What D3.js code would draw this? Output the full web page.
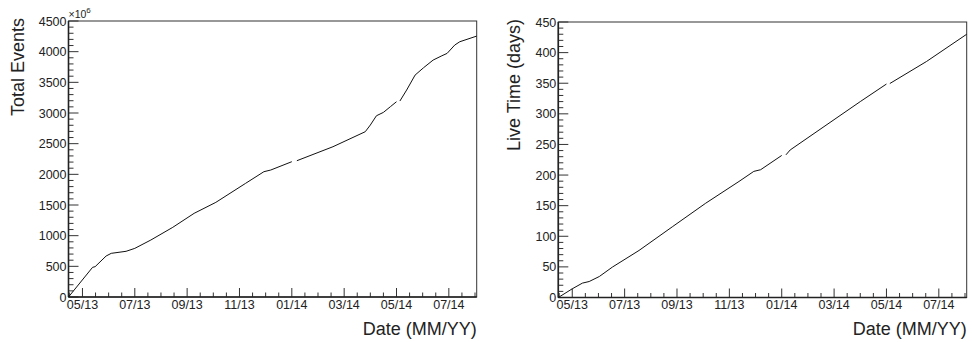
<!DOCTYPE html>
<html>
<head>
<meta charset="utf-8">
<script src="https://cdn.jsdelivr.net/npm/d3@7/dist/d3.min.js"></script>
<style>
  html, body { margin: 0; padding: 0; background: #fff; }
  svg { display: block; }
  text { font-family: "Liberation Sans", Arial, Helvetica, sans-serif; fill: #222; }
</style>
</head>
<body>
<svg id="chart" width="972" height="342"></svg>
<script>
// ---------- DATA ----------
const xTickLabels = ["05/13", "07/13", "09/13", "11/13", "01/14", "03/14", "05/14", "07/14"];
const xDomainDates = ["2013-04-15", "2014-08-03"];

// Total events (x10^6); null marks a gap in the record
const eventDates = ["2013-04-15", "2013-05-13", "2013-05-16", "2013-05-29", "2013-06-04", "2013-06-21",
  "2013-07-01", "2013-07-20", "2013-08-15", "2013-09-09", "2013-10-04", "2013-11-08", "2013-11-29",
  "2013-12-07", "2014-01-01", "2014-01-04", "2014-01-07", "2014-02-17", "2014-03-26", "2014-04-01",
  "2014-04-08", "2014-04-16", "2014-04-24", "2014-05-01", "2014-05-03", "2014-05-05", "2014-05-13",
  "2014-05-23", "2014-06-02", "2014-06-13", "2014-06-23", "2014-06-29", "2014-07-08", "2014-07-14",
  "2014-08-03"];
const eventValues = [0, 484, 494, 668, 712, 745,
  793, 929, 1136, 1364, 1543, 1853, 2043,
  2070, 2206, null, 2222, 2450, 2695, 2804,
  2955, 3010, 3103, 3184, null, 3195, 3374,
  3618, 3738, 3863, 3933, 3972, 4108, 4162,
  4254];
const eventTicks = [0, 500, 1000, 1500, 2000, 2500, 3000, 3500, 4000, 4500];

// Live time (days)
const liveDates = ["2013-04-15", "2013-05-01", "2013-05-13", "2013-05-21", "2013-06-02", "2013-06-17",
  "2013-07-18", "2013-08-27", "2013-10-04", "2013-11-12", "2013-11-29", "2013-12-07", "2014-01-01",
  "2014-01-03", "2014-01-06", "2014-01-11", "2014-04-01", "2014-05-01", "2014-05-03", "2014-05-05",
  "2014-06-17", "2014-08-03"];
const liveValues = [0, 14.2, 23.5, 26.1, 34.3, 49.7,
  76.8, 116, 154, 189.5, 206, 208.7, 232,
  null, 233, 241, 320, 348.7, null, 349.5,
  385.6, 430];
const liveTicks = [0, 50, 100, 150, 200, 250, 300, 350, 400, 450];

// ---------- HELPERS ----------
// fractional month index, 0 = 1 May 2013
function monthIndex(s) {
  const [y, m, d] = s.split("-").map(Number);
  const dim = new Date(Date.UTC(y, m, 0)).getUTCDate();
  return (y - 2013) * 12 + (m - 5) + (d - 1) / dim;
}

const svg = d3.select("#chart");

function drawPanel(cfg) {
  const { left, right, top, bottom, dates, values, yMax, yTicks, yMinorStep, yTitle, yTitleX, showExp } = cfg;
  const x = d3.scaleLinear()
    .domain(xDomainDates.map(monthIndex))
    .range([left, right]);
  const y = d3.scaleLinear().domain([0, yMax]).range([bottom, top]);
  const g = svg.append("g");

  // frame
  g.append("rect")
    .attr("x", left).attr("y", top)
    .attr("width", right - left).attr("height", bottom - top)
    .attr("fill", "none").attr("stroke", "#333").attr("stroke-width", 1);

  // x ticks (inside, upward)
  const [d0, d1] = x.domain();
  const xMinor = d3.range(Math.ceil(d0 * 2) / 2, d1 + 1e-9, 0.5);
  g.selectAll(".xt").data(xMinor).join("line")
    .attr("x1", d => x(d)).attr("x2", d => x(d))
    .attr("y1", bottom)
    .attr("y2", d => Math.abs(d / 2 - Math.round(d / 2)) < 1e-9 ? bottom - 9 : bottom - 4.5)
    .attr("stroke", "#333").attr("stroke-width", 1);
  g.selectAll(".xl").data(xTickLabels).join("text")
    .attr("x", (d, i) => x(i * 2)).attr("y", 309)
    .attr("text-anchor", "middle").attr("font-size", 12.5)
    .text(d => d);

  // y ticks (inside, rightward)
  const yMinor = d3.range(0, yMax + 1e-9, yMinorStep);
  g.selectAll(".yt").data(yMinor).join("line")
    .attr("x1", left)
    .attr("x2", d => yTicks.includes(d) ? left + 10 : left + 5)
    .attr("y1", d => y(d)).attr("y2", d => y(d))
    .attr("stroke", "#333").attr("stroke-width", 1);
  g.selectAll(".yl").data(yTicks).join("text")
    .attr("x", left - 2).attr("y", d => y(d))
    .attr("dy", "0.36em")
    .attr("text-anchor", "end").attr("font-size", 12.5)
    .text(d => d);

  // axis lines (thicker)
  g.append("line").attr("x1", left).attr("x2", left).attr("y1", top).attr("y2", bottom)
    .attr("stroke", "#222").attr("stroke-width", 1.6);
  g.append("line").attr("x1", left).attr("x2", right).attr("y1", bottom).attr("y2", bottom)
    .attr("stroke", "#222").attr("stroke-width", 1.6);

  // curve
  const pts = dates.map((d, i) => [monthIndex(d), values[i]]);
  const line = d3.line()
    .defined(d => d[1] !== null)
    .x(d => x(d[0])).y(d => y(d[1]));
  g.append("path").datum(pts)
    .attr("d", line)
    .attr("fill", "none").attr("stroke", "#111").attr("stroke-width", 1)
    .attr("stroke-linejoin", "round");

  // titles
  g.append("text")
    .attr("transform", `translate(${yTitleX},${top - 3}) rotate(-90)`)
    .attr("text-anchor", "end").attr("font-size", 18)
    .text(yTitle);
  g.append("text")
    .attr("x", right).attr("y", 335)
    .attr("text-anchor", "end").attr("font-size", 18)
    .text("Date (MM/YY)");

  if (showExp) {
    const t = g.append("text").attr("x", left).attr("y", 18).attr("font-size", 10.5);
    t.append("tspan").text("\u00d710");
    t.append("tspan").attr("dy", -5).attr("font-size", 8).text("6");
  }
}

drawPanel({
  left: 68.5, right: 476.7, top: 21, bottom: 297,
  dates: eventDates, values: eventValues,
  yMax: 4500, yTicks: eventTicks, yMinorStep: 100,
  yTitle: "Total Events", yTitleX: 24, showExp: true
});

drawPanel({
  left: 558.3, right: 966.7, top: 22, bottom: 297.5,
  dates: liveDates, values: liveValues,
  yMax: 450, yTicks: liveTicks, yMinorStep: 10,
  yTitle: "Live Time (days)", yTitleX: 519.5, showExp: false
});
</script>
</body>
</html>
